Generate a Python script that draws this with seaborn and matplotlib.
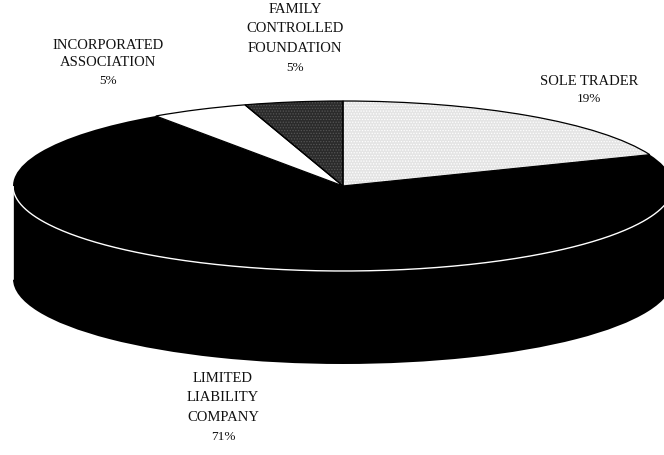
import matplotlib
matplotlib.use("Agg")
import matplotlib.pyplot as plt
import numpy as np
import seaborn as sns

categories = ["SOLE TRADER", "LIMITED\nLIABILITY\nCOMPANY", "INCORPORATED\nASSOCIATION", "FAMILY\nCONTROLLED\nFOUNDATION"]
shares = [19.0, 71.4, 4.8, 4.8]
share_labels = ["19%", "71%", "5%", "5%"]

sns.set_theme(style="white")
plt.rcParams["font.family"] = ["Liberation Serif", "DejaVu Serif"]
plt.rcParams["hatch.linewidth"] = 0.6

W, H = 664, 456
cx, cy, rx, ry, depth = 343, 187, 330, 85, 93
fig = plt.figure(figsize=(W / 100, H / 100), dpi=100)
ax = fig.add_axes([0, 0, 1, 1])

d = depth / ry
# side wall: lower disc + band
ax.pie([1], colors=["black"], center=(0, -d), radius=1, startangle=90, frame=False,
       wedgeprops=dict(linewidth=0))
xs = np.linspace(-1, 1, 400)
ax.fill_between(xs, -d, 0, color="black", linewidth=0)

faces = ["#e4e4e4", "black", "white", "#2b2b2b"]
wedges, _ = ax.pie(shares, colors=faces, startangle=90, counterclock=False, radius=1, frame=False,
                   wedgeprops=dict(linewidth=0))
wedges[0].set(hatch="......", edgecolor="#ffffff", linewidth=0)
wedges[3].set(hatch="......", edgecolor="#555555", linewidth=0)

# outlines
outline, _ = ax.pie(shares, colors=["none"] * 4, startangle=90, counterclock=False, radius=1, frame=False,
                    wedgeprops=dict(linewidth=0.9, edgecolor="black"))
outline[1].set(edgecolor="none")
front, _ = ax.pie(shares, colors=["none"] * 4, startangle=90, counterclock=False, radius=1, frame=False,
                  wedgeprops=dict(linewidth=0))
th = np.radians(np.linspace(180, 360, 300))
ax.plot(np.cos(th), np.sin(th), color="white", lw=1.0, solid_capstyle="butt")
ax.plot([-1, -1], [0, -d], color="white", lw=0.6)

ax.set_aspect("auto")
ax.set_xlim((0 - cx) / rx, (W - cx) / rx)
ax.set_ylim((cy - H) / ry, cy / ry)
ax.axis("off")

def px(x, y):
    return (x - cx) / rx, (cy - y) / ry

label_pos = [(589, 80), (223, 377), (108, 44), (295, 8)]
for name, pct, (x, y) in zip(categories, share_labels, label_pos):
    n = name.count("\n") + 2
    for i, line in enumerate(name.split("\n") + [pct]):
        lx, ly = px(x, y + i * 19.4 if n == 4 else y + i * 17.5)
        ax.text(lx, ly, line, ha="center", va="center_baseline", color="#111111",
                fontsize=10.5 if line != pct else 9.5)

fig.savefig("out.png", dpi=100)
